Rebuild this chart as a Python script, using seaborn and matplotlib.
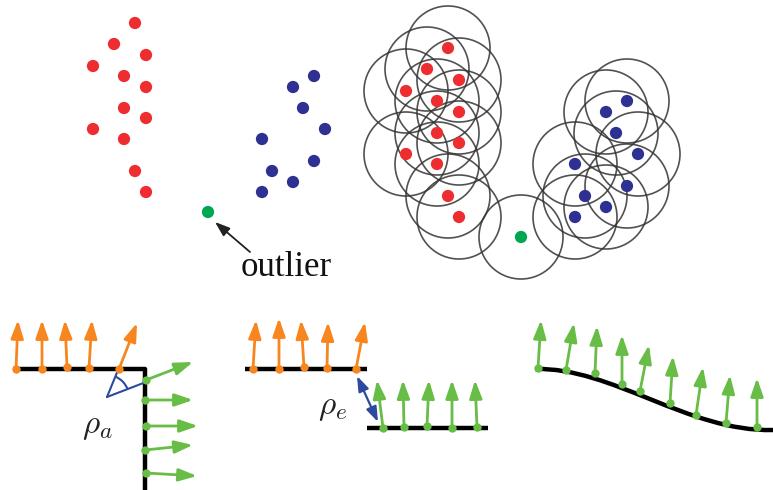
import numpy as np
import pandas as pd
import seaborn as sns
import matplotlib.pyplot as plt
from matplotlib.patches import Circle, FancyArrowPatch, Arc, PathPatch
from matplotlib.path import Path

sns.set_theme(style="white")
plt.rcParams["font.family"] = ["Liberation Serif", "DejaVu Serif"]
plt.rcParams["mathtext.fontset"] = "cm"

# ---- point clusters (pixel coordinates, y grows downward) ----
red_x = [135, 114, 146, 93, 124, 146, 124, 146, 93, 124, 135, 146]
red_y = [23, 44, 55, 66, 76, 87, 108, 118, 129, 139, 171, 192]
blue_x = [314, 293, 303, 325, 262, 314, 272, 293, 262]
blue_y = [76, 87, 108, 129, 139, 161, 171, 182, 192]
outlier_x = [208]
outlier_y = [212]
# the second copy of the clusters, with neighbourhood circles
shift_x, shift_y = 313, 25
radius = 42

# ---- boundary panels ----
# corner panel
corner_h = [(13, 369), (145, 369)]
corner_v = [(145, 369), (145, 490)]
corner_orange_base = [(16, 369), (42, 369), (67, 367), (89, 368), (119, 369)]
corner_orange_tip = [(18, 320), (42, 320), (65, 320), (92, 320), (137, 323)]
corner_green_base = [(146, 380), (145, 400), (146, 426), (145, 450), (146, 473)]
corner_green_tip = [(193, 362), (193, 400), (198, 426), (193, 445), (197, 476)]
angle_vertex = (107, 397)
angle_ends = [(118, 370), (146, 382)]

# step panel
step_upper = [(245, 369), (367, 369)]
step_lower = [(367, 428), (488, 428)]
step_orange_base = [(253, 369), (279, 369), (304, 367), (327, 368), (356, 369)]
step_orange_tip = [(256, 320), (279, 318), (301, 320), (328, 322), (365, 322)]
step_green_base = [(383, 428), (404, 427), (427, 426), (452, 428), (477, 427)]
step_green_tip = [(377, 380), (403, 380), (429, 380), (452, 380), (475, 380)]
gap_ends = [(357, 376), (378, 422)]

# smooth panel (cubic Bezier control points)
curve_ctrl = [(535, 369), (612, 367), (688, 432), (773, 430)]
curve_green_base = [(538, 368), (566, 370), (595, 373), (622, 384), (640, 391),
                    (670, 403), (696, 415), (726, 423), (757, 427)]
curve_green_tip = [(541, 320), (574, 323), (597, 326), (622, 335), (649, 345),
                   (673, 356), (703, 367), (730, 375), (757, 378)]

RED = "#EE2D30"
BLUE = "#2E3192"
GREEN = "#00A651"
ORANGE = "#F7861F"
LGREEN = "#67BD45"
ABLUE = "#2D4A9E"

fig = plt.figure(figsize=(7.73, 4.90), dpi=100)
ax = fig.add_axes([0, 0, 1, 1])
ax.set_xlim(0, 773)
ax.set_ylim(490, 0)
ax.axis("off")

# clusters
pts = pd.DataFrame({
    "x": red_x + blue_x + outlier_x,
    "y": red_y + blue_y + outlier_y,
    "cls": ["a"] * len(red_x) + ["b"] * len(blue_x) + ["o"] * len(outlier_x),
})
pal = {"a": RED, "b": BLUE, "o": GREEN}
pts2 = pts.assign(x=pts["x"] + shift_x, y=pts["y"] + shift_y)
for df in (pts, pts2):
    sns.scatterplot(data=df, x="x", y="y", hue="cls", palette=pal, s=78,
                    linewidth=0, legend=False, ax=ax, zorder=3)
for px, py in zip(pts2["x"], pts2["y"]):
    ax.add_patch(Circle((px, py), radius, fill=False, ec="#333333", lw=1.2,
                        alpha=0.85, zorder=2))

# outlier label
pointer = FancyArrowPatch((250, 252), (215, 222), arrowstyle="-|>",
                          mutation_scale=1, shrinkA=0, shrinkB=0,
                          color="#222222", lw=1.3)
pointer.set_arrowstyle("-|>", head_length=9, head_width=3.2)
ax.add_patch(pointer)
ax.text(286, 276, "outlier", fontsize=25, ha="center", va="baseline", color="#111111")


def arrows(bases, tips, color, lw=2.0):
    for b, t in zip(bases, tips):
        a = FancyArrowPatch(b, t, arrowstyle="-|>", mutation_scale=1,
                            shrinkA=0, shrinkB=0, color=color, lw=lw, zorder=4)
        a.set_arrowstyle("-|>", head_length=11, head_width=3.8)
        ax.add_patch(a)
    bx, by = zip(*bases)
    sns.scatterplot(x=list(bx), y=list(by), color=color, s=36, linewidth=0,
                    ax=ax, zorder=5, legend=False)


def seg(pts_, **kw):
    xs, ys = zip(*pts_)
    ax.plot(xs, ys, color="black", lw=3.2, solid_capstyle="butt", zorder=1, **kw)


# corner panel
seg(corner_h + [corner_v[1]])
arrows(corner_orange_base, corner_orange_tip, ORANGE)
arrows(corner_green_base, corner_green_tip, LGREEN)
for e in angle_ends:
    ax.plot([angle_vertex[0], e[0]], [angle_vertex[1], e[1]], color=ABLUE, lw=1.5, zorder=3)
a1 = np.degrees(np.arctan2(angle_ends[0][1] - angle_vertex[1], angle_ends[0][0] - angle_vertex[0]))
a2 = np.degrees(np.arctan2(angle_ends[1][1] - angle_vertex[1], angle_ends[1][0] - angle_vertex[0]))
ax.add_patch(Arc(angle_vertex, 44, 44, theta1=min(a1, a2), theta2=max(a1, a2),
                 color=ABLUE, lw=1.5, zorder=3))
ax.text(97, 427, r"$\rho_a$", fontsize=24, ha="center", va="center", color="#222222")

# step panel
seg(step_upper)
seg(step_lower)
arrows(step_orange_base, step_orange_tip, ORANGE)
arrows(step_green_base, step_green_tip, LGREEN)
g = FancyArrowPatch(gap_ends[0], gap_ends[1], arrowstyle="<|-|>", mutation_scale=1,
                    shrinkA=0, shrinkB=0, color=ABLUE, lw=1.6, zorder=3)
g.set_arrowstyle("<|-|>", head_length=9, head_width=3.2)
ax.add_patch(g)
ax.text(333, 408, r"$\rho_e$", fontsize=24, ha="center", va="center", color="#222222")

# smooth panel
curve = Path(curve_ctrl, [Path.MOVETO, Path.CURVE4, Path.CURVE4, Path.CURVE4])
ax.add_patch(PathPatch(curve, fill=False, ec="black", lw=3.2, zorder=1))
arrows(curve_green_base, curve_green_tip, LGREEN)

fig.savefig("out.png", dpi=100)
